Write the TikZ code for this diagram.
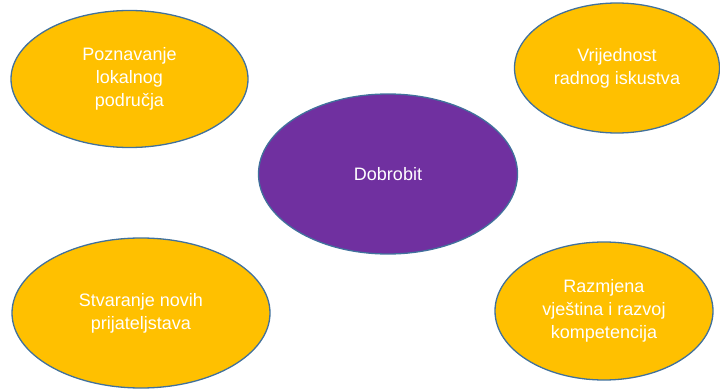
\documentclass[tikz,border=0pt]{standalone}
\usepackage{fontspec}
\setmainfont{Liberation Sans}
\usetikzlibrary{positioning,shapes.geometric}

\definecolor{benefitgold}{HTML}{FFC000}
\definecolor{benefitpurple}{HTML}{7030A0}
\definecolor{benefitedge}{HTML}{41719C}

\tikzset{
  bubble/.style={ellipse,draw=benefitedge,line width=1.3pt,fill=benefitgold,
    text=white,align=center,inner sep=0pt,
    font=\fontsize{18}{23}\selectfont},
  hub/.style={bubble,fill=benefitpurple}
}

\begin{document}
\begin{tikzpicture}[x=1pt,y=-1pt]
\useasboundingbox (0,0) rectangle (720,390);
\node[hub,minimum width=259pt,minimum height=160pt](dobrobit) at(388,174){Dobrobit};
\node[bubble,minimum width=237pt,minimum height=137pt](poznavanje) at(129.5,79){Poznavanje\\lokalnog\\područja};
\node[bubble,minimum width=205pt,minimum height=130pt](vrijednost) at(617,68){Vrijednost\\radnog iskustva};
\node[bubble,minimum width=258pt,minimum height=150pt](stvaranje) at(141,313){Stvaranje novih\\prijateljstava};
\node[bubble,minimum width=218pt,minimum height=138pt](razmjena) at(604,311){Razmjena\\vještina i razvoj\\kompetencija};
\end{tikzpicture}
\end{document}
